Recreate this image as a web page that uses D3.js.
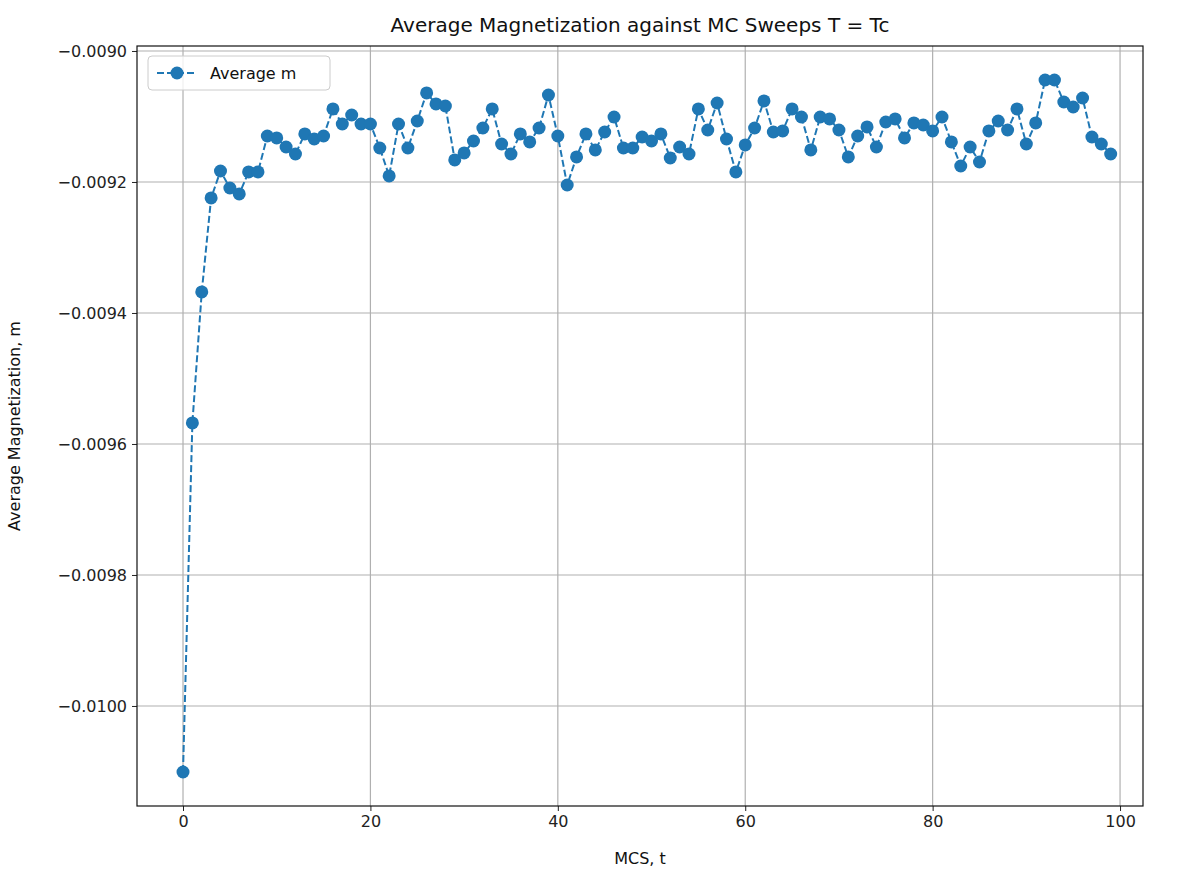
<!DOCTYPE html>
<html><head><meta charset="utf-8">
<script src="https://cdn.jsdelivr.net/npm/d3@7"></script>
<style>body{margin:0;background:#fff;font-family:"DejaVu Sans",sans-serif;}</style>
</head><body><svg id="c" width="1194" height="886"></svg>
<script>
const mValues=[-0.0101008,-0.0095679,-0.0093679,-0.0092244,-0.0091832,-0.0092092,-0.0092183,-0.0091847,-0.0091847,-0.0091298,
-0.0091328,-0.0091466,-0.0091573,-0.0091267,-0.0091344,-0.0091298,-0.0090885,-0.0091115,-0.0090977,-0.0091115,
-0.0091115,-0.0091481,-0.0091908,-0.0091115,-0.0091481,-0.0091069,-0.0090641,-0.0090809,-0.0090840,-0.0091664,
-0.0091557,-0.0091374,-0.0091176,-0.0090885,-0.0091420,-0.0091573,-0.0091267,-0.0091389,-0.0091176,-0.0090672,
-0.0091298,-0.0092046,-0.0091618,-0.0091267,-0.0091511,-0.0091237,-0.0091008,-0.0091481,-0.0091481,-0.0091313,
-0.0091374,-0.0091267,-0.0091634,-0.0091466,-0.0091573,-0.0090885,-0.0091206,-0.0090794,-0.0091344,-0.0091847,
-0.0091435,-0.0091176,-0.0090763,-0.0091237,-0.0091221,-0.0090885,-0.0091008,-0.0091511,-0.0091008,-0.0091038,
-0.0091206,-0.0091618,-0.0091298,-0.0091160,-0.0091466,-0.0091084,-0.0091038,-0.0091328,-0.0091099,-0.0091130,
-0.0091221,-0.0091008,-0.0091389,-0.0091756,-0.0091466,-0.0091695,-0.0091221,-0.0091069,-0.0091206,-0.0090885,
-0.0091420,-0.0091099,-0.0090443,-0.0090443,-0.0090779,-0.0090855,-0.0090718,-0.0091313,-0.0091420,-0.0091573];
const xTicks=[0,20,40,60,80,100];
const yTicks=[-0.0090,-0.0092,-0.0094,-0.0096,-0.0098,-0.0100];
const color="#1f77b4";
const L=137,R=1143,T=46,B=806;
const svg=d3.select("#c");
const x=d3.scaleLinear().domain([-4.91,102.45]).range([L,R]);
const y=d3.scaleLinear().domain([-0.0101527,-0.0089924]).range([B,T]);
const g=svg.append("g");
g.selectAll(".gx").data(xTicks).join("line").attr("x1",d=>x(d)).attr("x2",d=>x(d)).attr("y1",T).attr("y2",B).attr("stroke","#b0b0b0").attr("stroke-width",1.2);
g.selectAll(".gy").data(yTicks).join("line").attr("y1",d=>y(d)).attr("y2",d=>y(d)).attr("x1",L).attr("x2",R).attr("stroke","#b0b0b0").attr("stroke-width",1.2);
const xa=svg.append("g").attr("transform",`translate(0,${B})`).call(d3.axisBottom(x).tickValues(xTicks).tickSize(5).tickPadding(5).tickFormat(d3.format("d")));
const ya=svg.append("g").attr("transform",`translate(${L},0)`).call(d3.axisLeft(y).tickValues(yTicks).tickSize(5).tickPadding(5).tickFormat(d=>"\u2212"+Math.abs(d).toFixed(4)));
[xa,ya].forEach(a=>{a.select(".domain").remove();a.selectAll("text").attr("font-size",16).attr("font-family","DejaVu Sans").attr("fill","#222");a.selectAll("line").attr("stroke","#222");});
svg.append("rect").attr("x",L).attr("y",T).attr("width",R-L).attr("height",B-T).attr("fill","none").attr("stroke","#111").attr("stroke-width",1.2);
const line=d3.line().x((d,i)=>x(i)).y(d=>y(d));
svg.append("path").datum(mValues).attr("d",line).attr("fill","none").attr("stroke",color).attr("stroke-width",2).attr("stroke-dasharray","7,3");
svg.selectAll(".pt").data(mValues).join("circle").attr("cx",(d,i)=>x(i)).attr("cy",d=>y(d)).attr("r",6.5).attr("fill",color);
svg.append("text").attr("x",(L+R)/2).attr("y",32).attr("text-anchor","middle").attr("font-size",20).attr("fill","#111").text("Average Magnetization against MC Sweeps T = Tc");
svg.append("text").attr("x",(L+R)/2).attr("y",864).attr("text-anchor","middle").attr("font-size",16).attr("fill","#111").text("MCS, t");
svg.append("text").attr("transform","translate(20,426) rotate(-90)").attr("text-anchor","middle").attr("font-size",16).attr("fill","#111").text("Average Magnetization, m");
const lg=svg.append("g");
lg.append("rect").attr("x",148).attr("y",56).attr("width",182).attr("height",34).attr("rx",4).attr("fill","#fff").attr("fill-opacity",0.8).attr("stroke","#ccc");
lg.append("line").attr("x1",157).attr("x2",197).attr("y1",73).attr("y2",73).attr("stroke",color).attr("stroke-width",2).attr("stroke-dasharray","7,3");
lg.append("circle").attr("cx",177).attr("cy",73).attr("r",6.5).attr("fill",color);
lg.append("text").attr("x",210).attr("y",79).attr("font-size",16).attr("fill","#111").text("Average m");
</script></body></html>
